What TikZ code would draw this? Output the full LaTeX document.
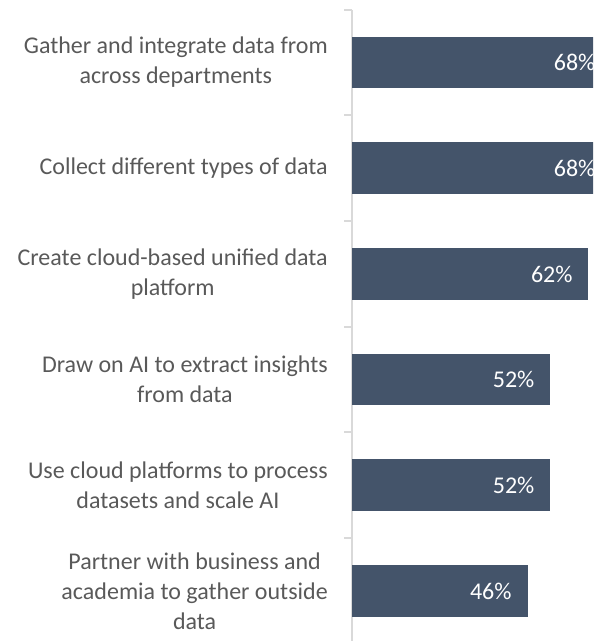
\documentclass[tikz,border=0pt]{standalone}
\usepackage{fontspec}
\setmainfont{Carlito}
\definecolor{barblue}{HTML}{44546A}
\definecolor{labelgray}{HTML}{595959}
\definecolor{axisgray}{HTML}{D9D9D9}
\begin{document}
\begin{tikzpicture}[
    x=0.75pt, y=-0.75pt,
    bar/.style={rectangle, fill=barblue, inner sep=0pt, anchor=west, minimum height=38.7pt, minimum width=#1*2.8575pt},
    item/.style={anchor=east, align=center, inner sep=0pt, text=labelgray, font=\fontsize{18pt}{22.5pt}\selectfont},
    value/.style={anchor=east, inner sep=0pt, text=white, font=\fontsize{18pt}{22.5pt}\selectfont},
    axis/.style={draw=axisgray, line width=1.5pt}
]
\useasboundingbox (0,0) rectangle (593,641);
\clip (0,0) rectangle (593,641);

% Axis
\coordinate (top) at (352,10);
\coordinate (bottom) at (352,644);
\draw[axis] (top) -- (bottom);
\draw[axis] (344,10) -- (352,10);
\draw[axis] (344,115.5) -- (352,115.5);
\draw[axis] (344,221) -- (352,221);
\draw[axis] (344,326.5) -- (352,326.5);
\draw[axis] (344,432) -- (352,432);
\draw[axis] (344,537.5) -- (352,537.5);

% Bars
\node[bar=68] (gather) at (352,62.5) {};
\node[bar=68] (collect) at (352,168) {};
\node[bar=62] (cloud) at (352,274) {};
\node[bar=52] (ai) at (352,379.5) {};
\node[bar=52] (scale) at (352,485) {};
\node[bar=46] (partner) at (352,591) {};

% Values
\node[value] (vgather) at ([xshift=-12pt]gather.east) {68\%};
\node[value] (vcollect) at ([xshift=-12pt]collect.east) {68\%};
\node[value] (vcloud) at ([xshift=-12pt]cloud.east) {62\%};
\node[value] (vai) at ([xshift=-12pt]ai.east) {52\%};
\node[value] (vscale) at ([xshift=-12pt]scale.east) {52\%};
\node[value] (vpartner) at ([xshift=-12pt]partner.east) {46\%};

% Categories
\node[item] (lgather) at (328,62.5) {Gather and integrate data from\\across departments};
\node[item] (lcollect) at (328,168) {Collect different types of data};
\node[item] (lcloud) at (328,274) {Create cloud-based unified data\\platform};
\node[item] (lai) at (328,379.5) {Draw on AI to extract insights\\from data};
\node[item] (lscale) at (328,485) {Use cloud platforms to process\\datasets and scale AI};
\node[item] (lpartner) at (328,591) {Partner with business and\\academia to gather outside\\data};

\end{tikzpicture}
\end{document}
